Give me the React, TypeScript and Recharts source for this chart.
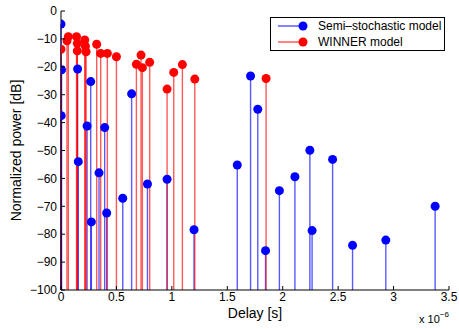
import React from 'react';
import { ScatterChart, Scatter, XAxis, YAxis, ErrorBar, Legend, Label } from 'recharts';

const seriesNames = ['Semi\u2013stochastic model', 'WINNER model'];
const seriesColors = ['#0000ff', '#ff0000'];
const stemColors = ['rgba(0,0,255,0.65)', 'rgba(255,0,0,0.65)'];

// Delay in units of 1e-6 s, power in dB
const semiDelay = [0.0, 0.005, 0.002, 0.15, 0.156, 0.235, 0.268, 0.274, 0.343, 0.394, 0.412, 0.557, 0.637, 0.78, 0.957, 1.2, 1.59, 1.71, 1.775, 1.845, 1.97, 2.11, 2.245, 2.265, 2.45, 2.63, 2.93, 3.375];
const semiPower = [-4.7, -21.1, -37.5, -20.8, -54.0, -41.2, -25.3, -75.6, -58.0, -41.8, -72.4, -67.1, -29.7, -62.0, -60.3, -78.4, -55.2, -23.3, -35.2, -85.9, -64.4, -59.4, -49.9, -78.7, -53.2, -84.0, -82.1, -70.0];

const winnerDelay = [0.0, 0.054, 0.066, 0.14, 0.147, 0.147, 0.214, 0.22, 0.226, 0.322, 0.358, 0.418, 0.5, 0.68, 0.722, 0.734, 0.8, 0.957, 1.017, 1.095, 1.207, 1.85];
const winnerPower = [-13.7, -10.7, -9.2, -9.2, -11.6, -14.3, -10.4, -12.6, -14.6, -11.9, -15.2, -15.2, -16.4, -19.1, -15.8, -20.3, -18.4, -28.0, -22.0, -19.2, -24.4, -24.2];

const xTicks = [0, 0.5, 1, 1.5, 2, 2.5, 3, 3.5];
const yTicks = [-100, -90, -80, -70, -60, -50, -40, -30, -20, -10, 0];
const Y_MIN = -100;
const Y_MAX = 0;

const toRows = (d: number[], p: number[]) =>
  d.map((x, i) => ({ x, y: p[i], stem: [p[i] - Y_MIN, 0] }));

const semiRows = toRows(semiDelay, semiPower);
const winnerRows = toRows(winnerDelay, winnerPower);

const FONT = '"Liberation Sans", Arial, Helvetica, sans-serif';
const fmt = (v: number) => String(v).replace('-', '\u2212');

const XTick = (props: any) => {
  const { x, y, payload } = props;
  return (
    <g>
      <line x1={x} x2={x} y1={y - 2} y2={y - 6} stroke="#000" strokeWidth={1} />
      <text x={x} y={y} dy="0.71em" textAnchor="middle" fontSize={12} fontFamily={FONT} fill="#000">
        {fmt(payload.value)}
      </text>
    </g>
  );
};

const YTick = (props: any) => {
  const { x, y, payload } = props;
  return (
    <g>
      <line x1={x + 4} x2={x + 8} y1={y} y2={y} stroke="#000" strokeWidth={1} />
      <text x={x} y={y} dy="0.35em" textAnchor="end" fontSize={12} fontFamily={FONT} fill="#000">
        {fmt(payload.value)}
      </text>
    </g>
  );
};

const makeDot = (color: string) => (props: any) => (
  <circle cx={props.cx} cy={props.cy} r={4.5} fill={color} />
);

const renderLegend = (props: any) => {
  const payload = props.payload || [];
  return (
    <div
      style={{
        width: 173,
        height: 32,
        border: '1px solid #000',
        background: '#fff',
        fontFamily: FONT,
        fontSize: 12,
        color: '#000',
      }}
    >
      {payload.map((e: any, i: number) => {
        const idx = seriesNames.indexOf(e.value);
        const k = idx >= 0 ? idx : i;
        return (
          <div key={i} style={{ display: 'flex', alignItems: 'center', height: 16, lineHeight: '16px' }}>
            <svg width={47} height={16} style={{ display: 'block' }}>
              <line x1={7} x2={32} y1={8} y2={8} stroke={stemColors[k]} strokeWidth={1.5} />
              <circle cx={32} cy={8} r={4.5} fill={seriesColors[k]} />
            </svg>
            <span style={{ whiteSpace: 'nowrap' }}>{e.value}</span>
          </div>
        );
      })}
    </div>
  );
};

export default function App() {
  return (
    <div style={{ position: 'absolute', left: 0, top: 0, width: 459, height: 329, background: '#fff' }}>
      <ScatterChart width={459} height={329} margin={{ top: 11, right: 10, bottom: 0, left: 0 }}>
        <XAxis
          type="number"
          dataKey="x"
          domain={[0, 3.5]}
          ticks={xTicks}
          interval={0}
          allowDataOverflow
          height={39}
          tickLine={false}
          tickSize={0}
          tickMargin={2}
          tick={<XTick />}
          axisLine={{ stroke: '#000' }}
        >
          <Label
            content={(p: any) => {
              const vb = p.viewBox;
              const cx = vb.x + vb.width / 2;
              return (
                <g>
                  <text x={cx} y={vb.y + 28} textAnchor="middle" fontSize={14} fontFamily={FONT} fill="#000">
                    Delay [s]
                  </text>
                  <text x={vb.x + vb.width - 30} y={vb.y + 33} fontSize={11} fontFamily={FONT} fill="#000">
                    x 10
                    <tspan dy={-6} fontSize={8}>
                      {'\u22126'}
                    </tspan>
                  </text>
                </g>
              );
            }}
          />
        </XAxis>
        <YAxis
          type="number"
          dataKey="y"
          domain={[Y_MIN, Y_MAX]}
          ticks={yTicks}
          interval={0}
          allowDataOverflow
          width={61}
          tickLine={false}
          tickSize={0}
          tickMargin={4}
          tick={<YTick />}
          axisLine={{ stroke: '#000' }}
        >
          <Label
            content={(p: any) => {
              const vb = p.viewBox;
              const cx = vb.x + 21;
              const cy = vb.y + vb.height / 2;
              return (
                <text
                  x={cx}
                  y={cy}
                  transform={`rotate(-90 ${cx} ${cy})`}
                  textAnchor="middle"
                  fontSize={14}
                  fontFamily={FONT}
                  fill="#000"
                >
                  Normalized power [dB]
                </text>
              );
            }}
          />
        </YAxis>
        <Scatter
          name={seriesNames[0]}
          data={semiRows}
          fill={seriesColors[0]}
          shape={makeDot(seriesColors[0])}
          isAnimationActive={false}
        >
          <ErrorBar dataKey="stem" direction="y" width={0} stroke={stemColors[0]} strokeWidth={1.4} isAnimationActive={false} />
        </Scatter>
        <Scatter
          name={seriesNames[1]}
          data={winnerRows}
          fill={seriesColors[1]}
          shape={makeDot(seriesColors[1])}
          isAnimationActive={false}
        >
          <ErrorBar dataKey="stem" direction="y" width={0} stroke={stemColors[1]} strokeWidth={1.4} isAnimationActive={false} />
        </Scatter>
        <Legend
          content={renderLegend}
          layout="vertical"
          align="center"
          verticalAlign="middle"
          wrapperStyle={{ top: 17, left: 270, width: 'auto', height: 'auto' }}
        />
      </ScatterChart>
    </div>
  );
}
